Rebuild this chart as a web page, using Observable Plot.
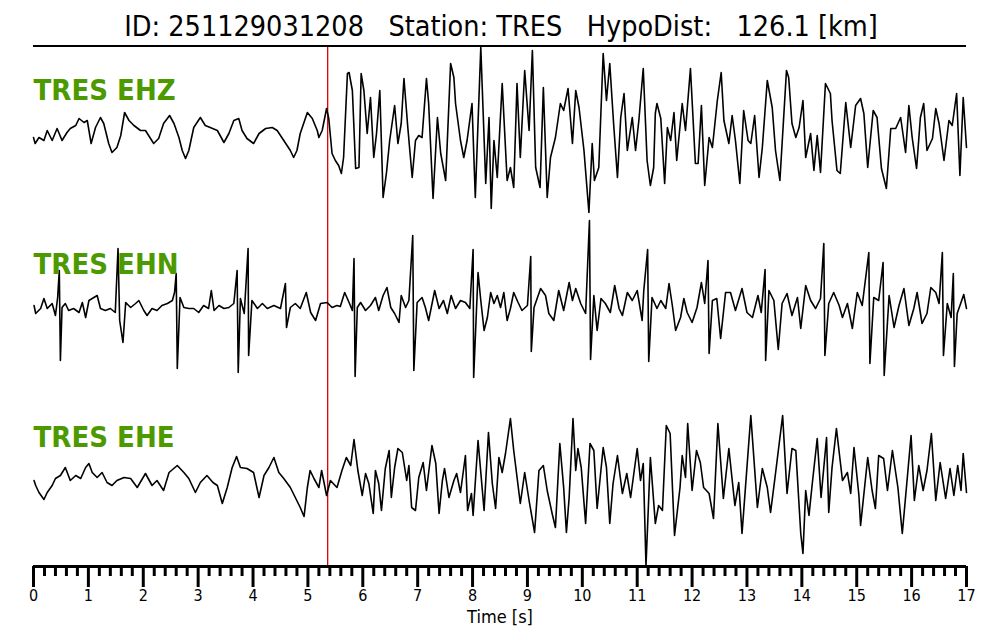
<!DOCTYPE html>
<html>
<head>
<meta charset="utf-8">
<script src="https://cdn.jsdelivr.net/npm/d3@7"></script>
<script src="https://cdn.jsdelivr.net/npm/@observablehq/plot@0.6"></script>
<style>
  html, body { margin: 0; padding: 0; background: #fff; }
  #title { position: relative; width: 1000px; height: 46px; }
  #title .txt { position: absolute; left: 0; width: 1002px; top: 12px; text-align: center;
    font-family: "DejaVu Sans Condensed", "DejaVu Sans", sans-serif; font-stretch: condensed;
    font-size: 28.5px; line-height: 30px; white-space: pre; color: #000; }
  #title .rule { position: absolute; left: 33px; width: 933px; top: 45px; height: 2px; background: #000; }
  svg { display: block; }
</style>
</head>
<body>
<div id="title"><div class="txt">ID: 251129031208   Station: TRES   HypoDist:   126.1 [km]</div><div class="rule"></div></div>
<div id="chart"></div>
<script>
// ---- data: [time (s), amplitude] ----
const ehz = [[0,-4],[0.03,-10],[0.10,-4],[0.19,-7],[0.25,3],[0.34,-7],[0.43,5],[0.52,-7],[0.61,1],[0.67,5],[0.77,8],[0.83,15],[0.92,11],[0.98,13],[1.05,-10],[1.13,6],[1.22,16],[1.28,10],[1.37,-10],[1.43,-19],[1.52,-14],[1.59,-2],[1.66,21],[1.74,13],[1.83,8],[1.95,3],[2.04,3],[2.19,-10],[2.28,-5],[2.37,10],[2.48,18],[2.56,10],[2.65,-4],[2.71,-17],[2.77,-25],[2.83,-17],[2.92,6],[3.04,16],[3.13,8],[3.22,6],[3.35,3],[3.47,-9],[3.56,0],[3.65,13],[3.74,15],[3.80,3],[3.89,-5],[4.01,-10],[4.11,0],[4.23,5],[4.35,6],[4.44,3],[4.56,-7],[4.68,-17],[4.74,-24],[4.80,-17],[4.86,0],[4.99,21],[5.08,15],[5.17,3],[5.20,-4],[5.26,3],[5.34,25],[5.38,15],[5.44,-20],[5.50,-27],[5.56,-32],[5.61,-40],[5.65,-24],[5.72,60],[5.75,61],
[5.81,43],[5.87,-35],[5.93,-34],[5.97,60],[6.02,43],[6.08,0],[6.14,36],[6.20,-24],[6.25,0],[6.31,43],[6.37,-64],[6.43,-40],[6.49,-7],[6.58,28],[6.64,-10],[6.70,10],[6.75,55],[6.82,6],[6.90,-44],[6.96,-7],[7.02,-2],[7.08,-4],[7.16,55],[7.20,30],[7.28,-65],[7.36,16],[7.42,-20],[7.51,-47],[7.60,70],[7.66,56],[7.69,30],[7.78,-7],[7.84,-24],[7.90,-7],[7.99,30],[8.05,-64],[8.15,86],[8.24,-50],[8.30,16],[8.34,-75],[8.39,-7],[8.45,-44],[8.54,50],[8.63,-47],[8.69,-34],[8.75,-54],[8.81,50],[8.87,-24],[8.95,63],[9.03,3],[9.09,83],[9.15,-34],[9.23,-54],[9.29,46],[9.36,-64],[9.42,-24],[9.51,-4],[9.60,30],[9.66,23],[9.74,45],[9.82,-10],[9.88,43],[9.94,26],[10.03,-17],[10.12,-79],[10.18,-10],[10.22,-47],[10.30,-34],[10.38,80],[10.44,33],[10.50,70],[10.57,10],[10.64,-44],[10.70,16],[10.76,40],[10.82,-17],[10.91,16],[10.97,-17],[11.03,13],[11.11,65],
[11.18,-27],[11.24,-52],[11.30,-34],[11.33,20],[11.36,30],[11.43,15],[11.50,-50],[11.55,6],[11.61,-7],[11.67,21],[11.72,-27],[11.82,30],[11.88,3],[11.97,65],[12.06,-30],[12.11,-30],[12.17,28],[12.23,-52],[12.31,-4],[12.37,-14],[12.46,33],[12.53,61],[12.58,13],[12.67,-10],[12.73,18],[12.79,-7],[12.87,-50],[12.94,23],[13.02,-7],[13.07,-10],[13.14,18],[13.22,-44],[13.28,-14],[13.37,53],[13.46,26],[13.52,-17],[13.60,-47],[13.72,63],[13.76,56],[13.82,10],[13.89,-4],[13.95,6],[14.02,33],[14.07,-24],[14.16,0],[14.22,-37],[14.28,-2],[14.34,-39],[14.43,50],[14.52,40],[14.55,13],[14.64,-37],[14.70,-40],[14.80,31],[14.89,-14],[14.98,28],[15.07,35],[15.13,20],[15.20,-34],[15.30,23],[15.37,16],[15.45,-35],[15.54,-55],[15.62,5],[15.71,5],[15.80,16],[15.89,-19],[15.95,28],[16.01,-4],[16.09,-35],[16.16,16],[16.22,30],[16.28,-17],[16.38,-5],[16.44,25],[16.50,10],[16.59,-27],[16.68,13],[16.74,8],[16.82,40],[16.88,-42],[16.94,36],[17.00,-14]];

const ehn = [[0.01,2],[0.04,-6],[0.13,-1],[0.19,9],[0.25,-1],[0.34,4],[0.40,-8],[0.44,10],[0.47,37],[0.49,-53],[0.52,0],[0.58,4],[0.64,-3],[0.73,-1],[0.83,-5],[0.89,5],[0.95,-10],[1.01,7],[1.07,9],[1.16,12],[1.22,-1],[1.31,-3],[1.40,-1],[1.49,-5],[1.54,59],[1.57,-13],[1.63,-35],[1.68,5],[1.77,0],[1.86,4],[1.92,7],[2.01,-3],[2.07,-8],[2.16,-1],[2.25,-3],[2.34,2],[2.44,4],[2.53,7],[2.57,15],[2.60,34],[2.62,-61],[2.67,10],[2.74,0],[2.83,-1],[2.92,-1],[3.01,-5],[3.10,2],[3.19,-1],[3.24,17],[3.29,-3],[3.38,2],[3.47,-1],[3.56,0],[3.65,4],[3.71,37],[3.73,-65],[3.77,9],[3.84,-6],[3.91,59],[3.92,-48],[3.98,7],[4.08,-1],[4.17,4],[4.26,-1],[4.38,2],[4.50,-1],[4.59,24],[4.61,-20],[4.68,0],[4.77,4],[4.86,-1],[4.97,15],[5.05,-5],[5.14,-13],[5.23,4],
[5.35,5],[5.44,0],[5.53,2],[5.59,1],[5.67,15],[5.75,5],[5.81,-3],[5.84,49],[5.86,-69],[5.90,0],[5.96,5],[6.05,-3],[6.14,2],[6.23,10],[6.29,-3],[6.37,12],[6.44,20],[6.51,0],[6.58,-6],[6.66,-15],[6.70,12],[6.78,0],[6.84,7],[6.91,72],[6.93,-63],[6.99,5],[7.08,10],[7.14,0],[7.20,-13],[7.31,17],[7.39,-1],[7.47,7],[7.54,-6],[7.61,12],[7.69,-1],[7.78,7],[7.87,5],[7.95,-1],[8.01,58],[8.02,-70],[8.10,35],[8.15,7],[8.21,-23],[8.27,-10],[8.33,15],[8.39,4],[8.45,12],[8.51,0],[8.57,15],[8.63,-13],[8.69,-1],[8.75,15],[8.83,5],[8.90,-3],[9.00,2],[9.06,51],[9.07,-44],[9.12,0],[9.24,19],[9.33,12],[9.39,-6],[9.48,-13],[9.57,17],[9.66,-3],[9.76,25],[9.82,7],[9.88,19],[9.97,4],[10.06,-6],[10.13,87],[10.15,-52],[10.21,12],[10.27,-23],[10.34,9],[10.42,4],[10.51,-5],[10.59,22],[10.67,-1],[10.73,-8],[10.82,15],[10.91,7],[11.00,17],[11.09,-13],
[11.12,17],[11.19,58],[11.21,-54],[11.27,10],[11.36,-1],[11.43,7],[11.52,-1],[11.58,24],[11.64,2],[11.70,-23],[11.79,-10],[11.85,9],[11.91,-5],[12.00,-15],[12.09,0],[12.17,25],[12.23,4],[12.29,47],[12.31,-46],[12.37,7],[12.45,9],[12.52,-31],[12.61,15],[12.70,15],[12.79,-3],[12.91,19],[13.00,-5],[13.10,-10],[13.20,12],[13.26,-5],[13.33,38],[13.34,-53],[13.40,17],[13.49,7],[13.57,-42],[13.64,4],[13.73,14],[13.82,-8],[13.92,10],[13.98,-21],[14.07,22],[14.16,7],[14.25,-1],[14.34,9],[14.40,64],[14.42,-48],[14.49,4],[14.58,15],[14.68,2],[14.74,-10],[14.83,4],[14.92,-21],[15.01,15],[15.10,2],[15.22,55],[15.24,-56],[15.31,10],[15.40,7],[15.48,45],[15.50,-68],[15.59,12],[15.68,-20],[15.77,2],[15.86,19],[15.95,-18],[16.04,-1],[16.10,15],[16.19,-16],[16.28,-6],[16.35,20],[16.44,15],[16.50,4],[16.56,55],[16.58,-48],[16.65,4],[16.72,-10],[16.76,34],[16.78,-59],[16.83,-6],[16.95,13],[17.00,-1]];

const ehe = [[0.01,0],[0.04,-5],[0.10,-12],[0.19,-19],[0.25,-12],[0.34,-5],[0.40,2],[0.49,5],[0.58,13],[0.67,0],[0.77,5],[0.86,2],[0.95,13],[1.01,17],[1.07,8],[1.16,3],[1.25,8],[1.34,-2],[1.43,-5],[1.52,0],[1.65,3],[1.77,2],[1.89,-7],[2.04,7],[2.16,-5],[2.25,0],[2.37,-10],[2.47,8],[2.62,15],[2.74,8],[2.83,2],[2.95,-12],[3.04,-2],[3.16,5],[3.27,-2],[3.35,-5],[3.44,-23],[3.53,-7],[3.62,13],[3.70,24],[3.77,13],[3.89,12],[4.01,8],[4.11,-17],[4.20,5],[4.29,13],[4.38,23],[4.47,8],[4.56,2],[4.68,-7],[4.77,-17],[4.86,-27],[4.93,-36],[4.99,-7],[5.04,10],[5.11,2],[5.20,-7],[5.25,10],[5.34,-15],
[5.41,0],[5.53,-7],[5.62,10],[5.70,23],[5.78,15],[5.84,41],[5.91,10],[5.99,-15],[6.05,7],[6.11,-3],[6.19,-33],[6.23,10],[6.29,-3],[6.34,-30],[6.41,12],[6.48,30],[6.52,-17],[6.58,13],[6.64,32],[6.72,28],[6.80,0],[6.84,15],[6.89,-27],[6.96,-30],[7.02,3],[7.10,18],[7.16,-10],[7.26,35],[7.33,17],[7.39,-33],[7.45,0],[7.49,12],[7.57,-17],[7.66,0],[7.71,7],[7.78,-12],[7.87,25],[7.91,-30],[7.98,-13],[8.01,-35],[8.10,40],[8.21,-30],[8.29,48],[8.36,-3],[8.42,-28],[8.48,23],[8.54,8],[8.60,27],[8.69,62],[8.75,30],[8.87,-23],[8.95,8],[9.03,-20],[9.13,-52],[9.21,10],[9.29,15],[9.36,-10],[9.45,-33],[9.51,-47],[9.59,37],[9.66,-7],[9.71,-52],[9.76,-17],[9.83,62],[9.88,10],[9.92,32],[9.98,13],[10.06,-43],[10.14,37],[10.21,30],[10.27,-28],[10.38,33],[10.44,13],[10.50,-43],[10.56,-3],[10.64,25],[10.73,-13],[10.81,7],[10.88,-17],[11.00,32],[11.06,0],[11.11,17],[11.16,-85],[11.24,23],
[11.33,-43],[11.39,-25],[11.46,-30],[11.53,55],[11.60,47],[11.68,-55],[11.78,-7],[11.82,25],[11.88,3],[11.92,57],[12.00,-10],[12.08,30],[12.15,18],[12.21,-7],[12.31,-13],[12.39,-38],[12.47,57],[12.57,-18],[12.67,32],[12.78,-25],[12.85,-2],[12.91,-53],[13.07,65],[13.19,-27],[13.28,12],[13.37,-7],[13.43,-32],[13.52,7],[13.65,65],[13.73,-13],[13.82,32],[13.89,30],[13.98,-53],[14.02,-73],[14.07,-10],[14.13,-35],[14.19,-3],[14.28,42],[14.35,-17],[14.45,43],[14.49,-32],[14.55,13],[14.63,52],[14.74,0],[14.83,8],[14.89,-13],[14.95,33],[15.04,-15],[15.07,-45],[15.20,23],[15.28,-10],[15.34,-28],[15.40,25],[15.49,22],[15.56,-10],[15.65,30],[15.75,-7],[15.83,-53],[15.92,2],[15.99,45],[16.05,-20],[16.13,15],[16.21,-10],[16.28,10],[16.36,47],[16.44,-20],[16.52,18],[16.62,-18],[16.70,12],[16.77,-15],[16.84,15],[16.90,-10],[16.94,27],[17.00,-12]];

const channels = ["TRES EHZ", "TRES EHN", "TRES EHE"];
const pickTime = 5.36;
const majorTicks = [0,1,2,3,4,5,6,7,8,9,10,11,12,13,14,15,16,17];
const axisLabel = "Time [s]";

// ---- layout (not data) ----
const laneCenter = [433, 259, 86];   // vertical lane centers in y-scale units
const labelLift = 43;
const series = [ehz, ehn, ehe];
const rows = series.flatMap((s, i) => s.map(([t, a]) => ({t, y: a + laneCenter[i], ch: channels[i]})));
const labelRows = channels.map((c, i) => ({ch: c, y: laneCenter[i] + labelLift}));
const minorTicks = d3.range(0, 17.001, 0.2).filter(v => Math.abs(v - Math.round(v)) > 1e-6);

const FONT = "'DejaVu Sans Condensed', 'DejaVu Sans', sans-serif";

const chart = Plot.plot({
  width: 1000,
  height: 594,
  marginLeft: 33,
  marginRight: 34,
  marginTop: 0,
  marginBottom: 74,
  style: {fontFamily: FONT, background: "#fff", color: "#000"},
  x: {domain: [0, 17]},
  y: {domain: [0, 520], axis: null},
  marks: [
    Plot.ruleX([pickTime], {stroke: "#e00000", strokeWidth: 1.3}),
    Plot.line(rows, {x: "t", y: "y", z: "ch", stroke: "#000", strokeWidth: 1.6, strokeLinejoin: "round"}),
    Plot.text(labelRows, {frameAnchor: "left", y: "y", text: "ch", textAnchor: "start", fill: "#4d9a00",
      fontSize: 29, fontWeight: "bold", fontStretch: "condensed"}),
    Plot.ruleY([0], {strokeWidth: 3, stroke: "#000"}),
    Plot.axisX({ticks: majorTicks, tickSize: 21, strokeWidth: 3, tickPadding: 2, fontSize: 16,
      tickFormat: d => String(d), label: null}),
    Plot.axisX({ticks: minorTicks, tickSize: 10, strokeWidth: 3, tickFormat: () => "", label: null}),
    Plot.text([axisLabel], {frameAnchor: "bottom", dy: 56, fontSize: 18, fill: "#000"})
  ]
});
document.getElementById("chart").appendChild(chart);
</script>
</body>
</html>
